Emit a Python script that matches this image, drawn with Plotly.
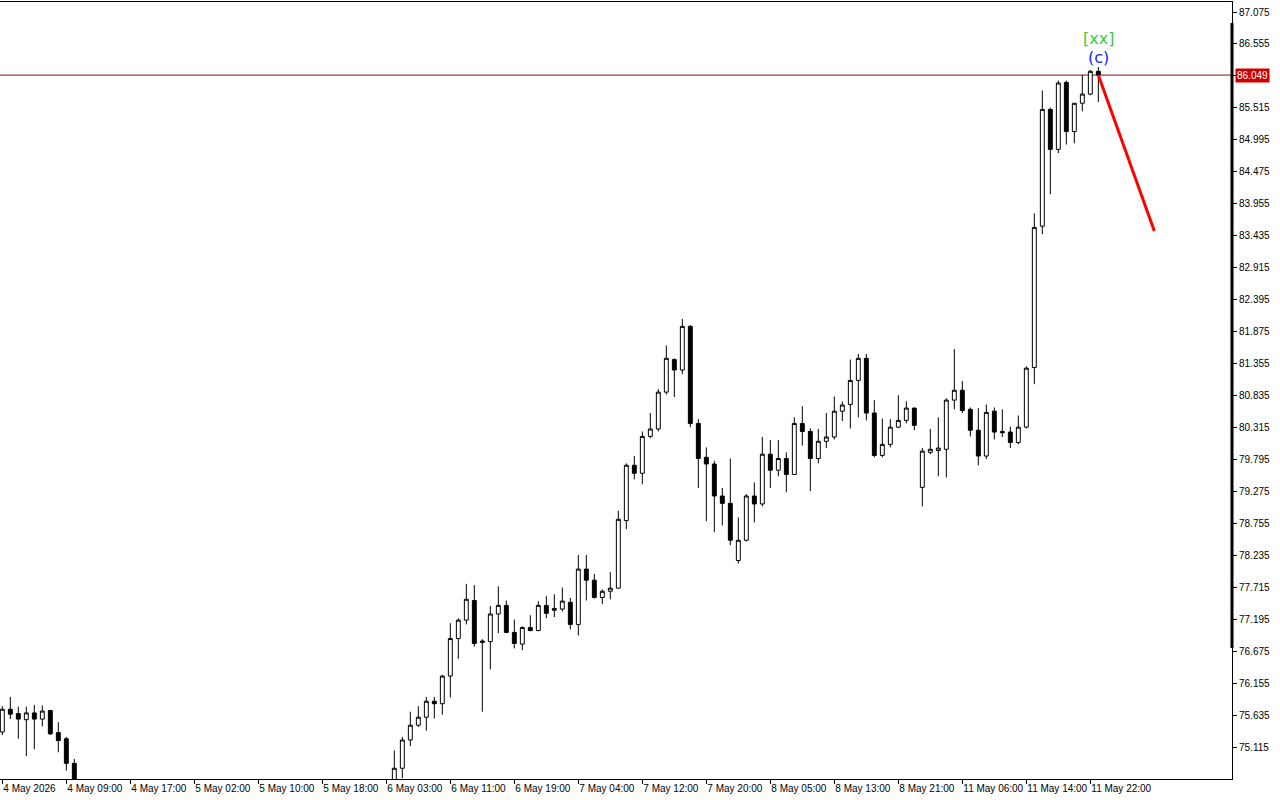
import plotly.graph_objects as go

# ---------------- data ----------------
# bar positions (hourly bars counted from 4 May 01:00); bars 10..48 lie below the visible price range
bar_index = list(range(0, 10)) + list(range(49, 138))

opens = [75.36, 75.73, 75.66, 75.56, 75.67, 75.57, 75.71, 75.35, 75.25, 74.85,
         74.50, 74.77, 75.23, 75.47, 75.60, 75.86, 75.82, 76.27, 76.88, 77.18,
         77.50, 76.84, 76.83, 77.28, 77.42, 76.98, 76.79, 77.06, 77.01, 77.42,
         77.34, 77.36, 77.47, 77.11, 78.01, 77.83, 77.55, 77.65, 77.70, 78.80,
         79.70, 79.57, 80.17, 80.29, 80.89, 81.42, 81.25, 81.96, 80.38, 79.83,
         79.72, 79.20, 79.08, 78.15, 78.48, 79.20, 79.07, 79.88, 79.62, 79.81,
         79.55, 80.38, 80.25, 79.81, 80.09, 80.16, 80.58, 80.69, 81.08, 81.44,
         80.55, 79.86, 80.04, 80.32, 80.43, 80.63, 79.34, 79.91, 79.94, 79.96,
         80.76, 80.92, 80.61, 80.27, 79.85, 80.58, 80.25, 80.24, 80.07, 80.32,
         81.29, 83.59, 85.49, 84.84, 85.93, 85.13, 85.59, 85.74, 86.11]
highs = [75.78, 75.93, 75.77, 75.77, 75.80, 75.79, 75.72, 75.52, 75.28, 74.92,
         75.06, 75.28, 75.69, 75.78, 75.93, 75.93, 76.29, 77.13, 77.21, 77.77,
         77.75, 76.87, 77.41, 77.73, 77.50, 77.19, 77.08, 77.26, 77.49, 77.57,
         77.60, 77.71, 77.54, 78.24, 78.24, 77.93, 77.68, 77.96, 78.96, 79.73,
         79.85, 80.25, 80.55, 80.94, 81.65, 81.44, 82.08, 81.98, 80.45, 79.99,
         79.77, 79.33, 79.81, 78.85, 79.23, 79.42, 80.16, 80.11, 80.11, 79.91,
         80.48, 80.66, 80.30, 80.29, 80.55, 80.82, 80.74, 81.42, 81.51, 81.51,
         80.76, 80.46, 80.45, 80.84, 80.74, 80.64, 79.98, 80.29, 80.48, 80.79,
         81.59, 81.07, 80.64, 80.63, 80.69, 80.64, 80.61, 80.33, 80.51, 81.31,
         83.80, 85.80, 85.52, 85.96, 85.96, 85.59, 86.05, 86.13, 86.18]
lows = [75.31, 75.57, 75.25, 74.97, 75.08, 75.45, 75.31, 75.03, 74.73, 74.30,
        74.45, 74.61, 75.13, 75.44, 75.38, 75.58, 75.64, 75.92, 76.55, 77.11,
        76.75, 75.69, 76.38, 76.97, 76.97, 76.72, 76.69, 77.00, 77.00, 77.21,
        77.23, 77.32, 77.03, 76.93, 77.50, 77.53, 77.44, 77.52, 77.70, 78.66,
        79.47, 79.39, 80.14, 80.25, 80.85, 80.81, 81.18, 80.32, 79.33, 78.79,
        78.61, 78.72, 78.40, 78.10, 78.46, 78.77, 79.03, 79.33, 79.52, 79.26,
        79.55, 80.02, 79.28, 79.73, 79.98, 80.12, 80.42, 80.30, 80.48, 80.43,
        79.83, 79.83, 79.99, 80.31, 80.38, 80.27, 79.03, 79.88, 79.52, 79.50,
        80.61, 80.55, 80.17, 79.70, 79.80, 80.12, 80.16, 79.98, 80.04, 80.30,
        81.02, 83.46, 84.11, 84.78, 84.92, 84.94, 85.46, 85.72, 85.61]
closes = [75.73, 75.65, 75.57, 75.67, 75.57, 75.70, 75.33, 75.22, 74.85, 74.40,
          74.77, 75.23, 75.47, 75.60, 75.86, 75.82, 76.27, 76.88, 77.18, 77.52,
          76.80, 76.82, 77.28, 77.42, 76.98, 76.80, 77.06, 77.01, 77.42, 77.29,
          77.37, 77.49, 77.11, 78.01, 77.83, 77.55, 77.65, 77.70, 78.82, 79.70,
          79.57, 80.17, 80.29, 80.89, 81.44, 81.25, 81.96, 80.38, 79.81, 79.72,
          79.20, 79.08, 78.48, 78.48, 79.20, 79.07, 79.88, 79.62, 79.81, 79.55,
          80.38, 80.25, 79.81, 80.09, 80.16, 80.58, 80.68, 81.08, 81.44, 80.55,
          79.86, 80.04, 80.32, 80.43, 80.63, 80.35, 79.93, 79.96, 79.98, 80.76,
          80.92, 80.59, 80.27, 79.85, 80.56, 80.24, 80.23, 80.07, 80.32, 81.28,
          83.57, 85.49, 84.84, 85.92, 85.13, 85.59, 85.74, 86.11, 86.049]

tick_index = [0, 8, 16, 24, 32, 40, 48, 56, 64, 72, 80, 88, 96, 104, 112, 120, 128, 136]
tick_labels = ["4 May 2026", "4 May 09:00", "4 May 17:00", "5 May 02:00", "5 May 10:00",
               "5 May 18:00", "6 May 03:00", "6 May 11:00", "6 May 19:00", "7 May 04:00",
               "7 May 12:00", "7 May 20:00", "8 May 05:00", "8 May 13:00", "8 May 21:00",
               "11 May 06:00", "11 May 14:00", "11 May 22:00"]

price_ticks = [87.075, 86.555, 86.035, 85.515, 84.995, 84.475, 83.955, 83.435,
               82.915, 82.395, 81.875, 81.355, 80.835, 80.315, 79.795, 79.275,
               78.755, 78.235, 77.715, 77.195, 76.675, 76.155, 75.635, 75.115]

current_price = 86.049
projection_x = [137, 144]
projection_y = [86.049, 83.51]
wave_label_x = 137
wave_label_outer = ("[xx]", 86.64)
wave_label_inner = ("(c)", 86.33)
range_bar = (76.727, 86.896)

# ---------------- figure ----------------
fig = go.Figure()
fig.add_trace(go.Candlestick(
    x=bar_index, open=opens, high=highs, low=lows, close=closes,
    increasing=dict(line=dict(color="black", width=1), fillcolor="white"),
    decreasing=dict(line=dict(color="black", width=1), fillcolor="black"),
    whiskerwidth=0, showlegend=False, hoverinfo="skip",
))
fig.add_trace(go.Scatter(
    x=projection_x, y=projection_y, mode="lines",
    line=dict(color="#FF0000", width=3), showlegend=False, hoverinfo="skip",
))

fig.add_shape(type="line", xref="paper", x0=0, x1=1, y0=current_price, y1=current_price,
              line=dict(color="#7A1010", width=1), layer="below")
fig.add_shape(type="line", xref="paper", x0=1, x1=1, y0=range_bar[0], y1=range_bar[1],
              line=dict(color="black", width=3))

fig.add_annotation(x=wave_label_x, y=wave_label_outer[1], text=wave_label_outer[0],
                   showarrow=False, font=dict(family="DejaVu Sans", size=16, color="#3CC83C"))
fig.add_annotation(x=wave_label_x, y=wave_label_inner[1], text=wave_label_inner[0],
                   showarrow=False, font=dict(family="DejaVu Sans", size=16, color="#2020FF"))
fig.add_annotation(xref="paper", x=1, xanchor="left", xshift=3, y=current_price,
                   text="%.3f" % current_price, showarrow=False, bgcolor="#D00000",
                   borderpad=1, font=dict(family="Liberation Sans", size=10, color="white"))

fig.update_layout(
    width=1280, height=800,
    margin=dict(l=0, r=48, t=2, b=21),
    paper_bgcolor="white", plot_bgcolor="white",
    font=dict(family="Liberation Sans", size=10, color="black"),
    xaxis=dict(
        range=[-0.29, 153.71], rangeslider=dict(visible=False),
        tickvals=tick_index, ticktext=tick_labels, tickangle=0, automargin=False,
        ticks="outside", ticklen=4, tickcolor="black",
        ticklabelposition="outside right",
        tickfont=dict(family="Liberation Sans", size=10, color="black"),
        showgrid=False, zeroline=False,
        showline=True, mirror=True, linecolor="black", linewidth=1,
    ),
    yaxis=dict(
        side="right", range=[74.595, 87.238], automargin=False,
        tickvals=price_ticks, ticktext=["%.3f" % v for v in price_ticks],
        ticks="outside", ticklen=4, tickcolor="black",
        tickfont=dict(family="Liberation Sans", size=10, color="black"),
        showgrid=False, zeroline=False,
        showline=True, linecolor="black", linewidth=1,
    ),
)

fig.write_html("out.html", config={"displayModeBar": False},
               post_script="document.body.style.margin='0';document.body.style.overflow='hidden';")
